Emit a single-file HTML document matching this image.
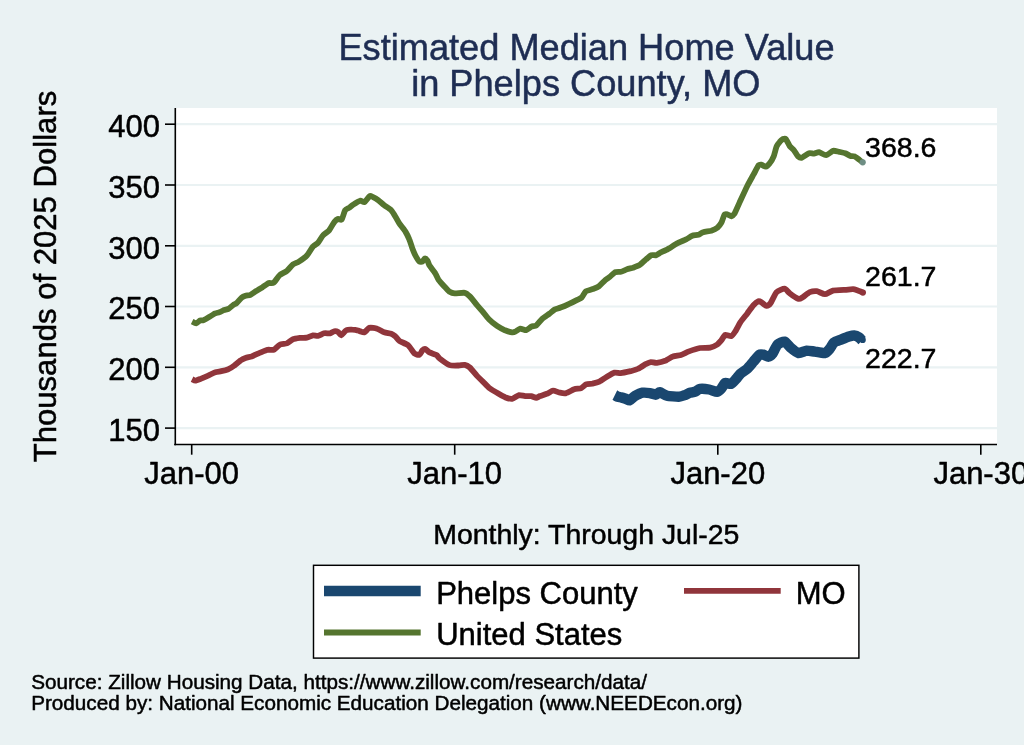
<!DOCTYPE html>
<html><head><meta charset="utf-8"><title>Estimated Median Home Value in Phelps County, MO</title>
<style>
html,body{margin:0;padding:0;background:#eaf2f3;}
body{width:1024px;height:745px;overflow:hidden;}
svg{display:block;font-family:"Liberation Sans",Arial,Helvetica,sans-serif;}
svg{will-change:transform;}
svg text{stroke-width:0.5px;stroke-linejoin:round;}
.k{fill:#000;stroke:#000;}
.t{fill:#1e2d53;stroke:#1e2d53;}
</style></head><body>
<svg width="1024" height="745" viewBox="0 0 1024 745">
<rect x="0" y="0" width="1024" height="745" fill="#eaf2f3"/>
<rect x="176" y="108" width="821" height="336.5" fill="#ffffff"/>
<g stroke="#eaf2f3" stroke-width="2.2"><line x1="176" x2="997" y1="428.1" y2="428.1"/><line x1="176" x2="997" y1="367.3" y2="367.3"/><line x1="176" x2="997" y1="306.5" y2="306.5"/><line x1="176" x2="997" y1="245.8" y2="245.8"/><line x1="176" x2="997" y1="185.0" y2="185.0"/><line x1="176" x2="997" y1="124.2" y2="124.2"/></g>
<g fill="none" stroke-linejoin="round" stroke-linecap="butt">
<path d="M614.9,395.0C615.1,395.1 616.4,396.3 617.0,396.5C617.6,396.7 620.1,397.1 621.0,397.4C621.8,397.6 624.7,398.5 625.6,398.8C626.5,399.1 628.7,400.6 629.6,400.4C630.5,400.1 633.4,396.9 634.7,396.1C636.0,395.4 641.2,393.0 642.7,392.7C644.2,392.4 648.5,392.9 649.8,393.1C651.1,393.3 654.8,394.8 655.8,394.7C656.8,394.7 658.7,392.2 659.8,392.3C660.9,392.4 665.0,395.3 666.9,395.7C668.8,396.2 677.2,396.8 679.0,396.7C680.8,396.7 683.9,395.5 685.0,395.1C686.1,394.7 689.0,393.1 690.1,392.7C691.1,392.4 694.1,392.1 695.1,391.7C696.1,391.3 698.6,389.1 700.0,388.9C701.4,388.7 707.4,389.2 709.1,389.5C710.8,389.8 715.9,392.0 717.1,391.9C718.3,391.9 720.3,389.8 721.1,388.9C722.0,388.0 724.2,383.4 725.2,382.9C726.2,382.4 730.1,384.3 731.2,383.9C732.3,383.5 735.3,379.8 736.3,378.8C737.2,377.8 739.2,374.8 740.3,373.8C741.4,372.8 746.0,370.0 747.3,368.8C748.6,367.6 752.2,363.1 753.4,361.7C754.6,360.3 758.4,355.4 759.4,354.7C760.4,354.0 762.5,354.5 763.4,354.7C764.4,354.9 767.6,356.8 768.5,356.7C769.4,356.6 771.6,354.9 772.5,353.7C773.4,352.4 776.3,345.8 777.5,344.6C778.8,343.4 783.3,341.3 784.6,341.6C785.9,341.9 789.2,346.5 790.6,347.6C792.0,348.8 797.1,352.7 798.7,353.1C800.3,353.4 805.1,350.8 806.7,350.6C808.4,350.5 813.0,351.4 814.8,351.6C816.6,351.9 823.4,353.4 824.9,353.1C826.4,352.7 829.0,349.7 829.9,348.6C830.8,347.6 832.8,343.5 833.9,342.6C835.0,341.7 839.5,340.2 841.0,339.6C842.5,339.0 847.7,336.9 849.0,336.5C850.4,336.1 853.1,335.4 854.1,335.5C855.1,335.6 858.3,337.0 859.1,337.5C859.9,338.0 861.8,340.3 862.1,340.6" stroke="#1a476f" stroke-width="10.4"/>
<path d="M192.1,379.2C192.5,379.4 194.6,380.7 195.5,380.6C196.4,380.6 199.9,379.1 201.2,378.6C202.4,378.1 206.8,376.2 208.2,375.6C209.6,375.0 214.0,372.6 215.3,372.2C216.6,371.7 220.0,371.5 221.3,371.2C222.6,370.9 227.1,369.7 228.4,369.2C229.7,368.6 233.2,366.4 234.4,365.5C235.6,364.7 239.3,361.3 240.5,360.5C241.6,359.7 244.4,358.3 245.5,357.9C246.6,357.5 250.2,356.9 251.5,356.5C252.8,356.0 257.0,354.1 258.6,353.4C260.2,352.8 266.1,350.2 267.6,349.8C269.2,349.5 272.5,350.3 273.7,349.8C274.9,349.3 278.4,345.4 279.7,344.8C281.0,344.1 285.5,343.9 286.8,343.4C288.1,342.8 291.5,339.9 292.8,339.3C294.1,338.8 298.5,338.1 299.9,337.9C301.3,337.8 305.6,338.0 306.9,337.7C308.2,337.5 311.9,335.5 313.0,335.3C314.1,335.1 316.9,336.1 318.0,335.9C319.1,335.7 322.8,333.6 324.0,333.3C325.2,333.0 329.1,333.5 330.1,333.3C331.1,333.1 333.3,331.4 334.1,331.3C334.9,331.1 337.4,331.5 338.1,331.9C338.8,332.3 340.4,335.5 341.2,335.3C342.0,335.2 345.1,330.8 346.2,330.3C347.3,329.7 350.9,329.6 352.2,329.7C353.5,329.7 358.5,330.7 359.3,330.9C360.1,331.0 359.5,331.1 360.0,331.3C360.5,331.4 363.5,332.7 364.4,332.3C365.4,331.9 368.4,328.0 369.7,327.7C370.9,327.3 375.7,328.2 377.1,328.7C378.6,329.1 382.8,331.8 384.2,332.3C385.6,332.8 390.1,333.3 391.2,333.7C392.3,334.1 394.4,335.6 395.2,336.3C396.1,337.0 398.0,339.8 399.3,340.8C400.6,341.7 406.8,344.1 408.3,345.4C409.8,346.7 413.3,352.5 414.4,353.4C415.5,354.4 418.6,355.2 419.4,354.9C420.2,354.6 421.8,351.0 422.4,350.4C423.0,349.8 424.8,348.8 425.5,349.0C426.2,349.2 428.4,351.8 429.5,352.4C430.6,353.0 435.5,354.5 436.5,355.1C437.5,355.7 438.2,357.5 439.6,358.5C440.9,359.5 447.7,364.4 449.6,365.1C451.5,365.8 457.2,365.5 458.7,365.5C460.2,365.5 463.6,364.7 464.7,364.9C465.8,365.1 468.6,366.5 469.8,367.5C471.0,368.6 475.5,374.2 476.8,375.6C478.1,377.0 481.7,380.4 482.9,381.6C484.1,382.8 487.5,386.6 488.9,387.7C490.3,388.8 495.3,391.8 497.0,392.7C498.6,393.7 503.5,396.5 505.0,397.2C506.5,397.8 510.7,399.0 512.1,398.8C513.5,398.6 517.8,395.4 519.1,395.1C520.4,394.9 523.9,396.0 525.2,396.1C526.4,396.2 530.1,396.0 531.2,396.1C532.3,396.3 535.4,397.8 536.2,397.8C537.1,397.8 538.9,396.5 540.0,396.1C541.1,395.7 545.7,394.3 547.0,393.7C548.4,393.2 551.8,390.8 553.1,390.7C554.4,390.6 558.8,392.5 560.1,392.7C561.5,393.0 564.8,393.5 566.2,393.1C567.6,392.8 572.7,389.8 574.2,389.3C575.8,388.8 580.1,388.6 581.3,388.1C582.5,387.6 585.2,384.7 586.3,384.3C587.4,383.8 591.1,383.9 592.4,383.7C593.7,383.4 598.0,382.3 599.4,381.6C600.8,381.0 605.0,377.9 606.5,377.0C608.0,376.1 613.1,373.0 614.5,372.6C615.9,372.2 619.0,373.3 620.6,373.2C622.2,373.0 628.8,371.6 630.6,371.2C632.4,370.7 637.2,369.3 638.7,368.5C640.2,367.8 644.5,364.8 645.7,364.1C646.9,363.5 649.7,362.2 650.8,362.1C651.9,362.0 655.3,363.1 656.8,362.9C658.3,362.7 664.3,361.1 665.9,360.5C667.5,359.8 671.4,357.0 672.9,356.5C674.4,355.9 679.4,355.4 681.0,354.9C682.6,354.4 687.1,352.1 689.0,351.4C690.9,350.7 697.9,348.4 700.0,348.0C702.1,347.6 708.4,348.0 710.1,347.6C711.8,347.3 716.0,345.3 717.1,344.6C718.2,343.9 720.3,341.5 721.1,340.6C722.0,339.6 724.2,335.4 725.2,334.9C726.2,334.5 730.2,336.5 731.2,336.1C732.2,335.8 734.3,332.9 735.2,331.5C736.2,330.1 739.1,324.2 740.3,322.4C741.5,320.6 746.0,315.1 747.3,313.4C748.6,311.7 752.3,306.5 753.4,305.3C754.5,304.1 757.6,301.6 758.4,301.3C759.2,301.0 760.6,301.8 761.4,302.3C762.2,302.8 765.6,305.8 766.5,305.9C767.4,306.0 769.5,304.7 770.5,303.3C771.5,301.9 775.1,293.7 776.5,292.2C777.9,290.8 783.3,288.5 784.6,288.6C785.9,288.7 788.2,292.2 789.6,293.2C791.0,294.3 797.4,298.5 798.7,298.9C800.0,299.3 801.6,297.9 802.7,297.3C803.8,296.6 808.4,292.8 809.8,292.2C811.2,291.6 815.3,291.0 816.8,291.2C818.3,291.4 823.3,294.3 824.9,294.2C826.5,294.2 830.9,291.1 832.9,290.6C834.9,290.2 843.0,289.9 845.0,289.8C847.0,289.7 851.8,289.1 853.1,289.2C854.4,289.3 857.1,290.3 858.1,290.6C859.1,291.0 862.6,292.4 863.1,292.6" stroke="#90353b" stroke-width="5.8"/>
<path d="M192.1,321.6C192.5,321.8 195.3,323.5 196.1,323.4C196.9,323.3 199.5,320.7 200.2,320.4C200.9,320.1 202.4,320.7 203.2,320.4C204.0,320.1 207.0,318.3 208.2,317.6C209.4,316.9 214.2,313.9 215.3,313.3C216.4,312.8 218.4,312.7 219.3,312.3C220.2,312.0 223.4,310.3 224.3,309.9C225.2,309.6 227.5,309.4 228.4,308.9C229.3,308.4 232.6,305.4 233.4,304.9C234.2,304.3 235.6,304.0 236.4,303.3C237.2,302.6 240.6,298.6 241.5,297.8C242.4,297.1 244.6,296.1 245.5,295.8C246.4,295.5 249.4,295.3 250.5,294.8C251.6,294.3 255.4,291.5 256.6,290.8C257.8,290.0 261.4,287.9 262.6,287.2C263.8,286.4 267.5,283.6 268.6,283.1C269.8,282.7 272.6,283.5 273.7,282.7C274.8,281.9 278.4,276.2 279.7,275.1C281.0,273.9 285.5,272.1 286.8,271.0C288.1,270.0 291.6,265.5 292.8,264.6C294.0,263.6 297.5,262.5 298.9,261.6C300.3,260.7 305.5,257.0 306.9,255.5C308.3,254.0 311.9,247.7 313.0,246.5C314.1,245.2 317.0,243.9 318.0,242.8C319.0,241.7 321.9,236.6 323.0,235.4C324.1,234.1 328.0,231.7 329.1,230.4C330.2,229.0 333.2,223.4 334.1,222.3C335.0,221.1 337.4,219.1 338.1,218.9C338.9,218.6 340.9,220.5 341.6,219.7C342.3,218.8 344.4,211.4 345.2,210.2C345.9,209.0 348.4,208.4 349.2,207.8C350.0,207.2 352.1,205.3 353.2,204.6C354.3,203.9 359.2,201.0 360.3,200.7C361.4,200.5 363.5,202.6 364.4,202.2C365.4,201.7 368.8,196.6 369.7,196.1C370.5,195.6 372.2,196.7 373.1,197.1C373.9,197.5 377.0,199.3 378.1,200.1C379.2,200.9 382.9,204.2 384.2,205.2C385.5,206.2 390.1,209.1 391.2,210.2C392.3,211.3 394.4,214.9 395.2,216.3C396.1,217.6 398.3,221.8 399.3,223.3C400.3,224.8 404.3,229.7 405.3,231.4C406.3,233.0 408.6,237.7 409.3,239.4C410.1,241.1 411.8,246.9 412.4,248.5C413.0,250.1 414.7,254.2 415.4,255.5C416.1,256.8 418.7,261.0 419.4,261.6C420.1,262.2 421.9,261.9 422.4,261.6C423.0,261.3 424.4,258.7 424.9,258.5C425.4,258.4 427.0,259.9 427.5,260.6C427.9,261.3 428.7,264.3 429.5,265.6C430.3,266.9 434.6,272.2 435.5,273.7C436.4,275.1 437.6,278.4 438.5,279.7C439.5,281.0 443.5,285.5 444.6,286.7C445.7,288.0 448.6,291.1 449.6,291.8C450.6,292.4 453.2,293.3 454.7,293.4C456.2,293.5 463.2,292.5 464.7,292.8C466.2,293.1 468.6,295.2 469.8,296.4C471.0,297.6 475.5,303.3 476.8,304.9C478.1,306.4 481.7,310.5 482.9,311.9C484.1,313.4 487.5,317.8 488.9,319.2C490.3,320.6 495.3,324.7 497.0,325.9C498.6,327.0 503.5,329.6 505.0,330.3C506.5,330.9 511.0,332.2 512.1,332.3C513.1,332.4 514.4,332.1 515.2,331.7C516.1,331.4 519.2,328.9 520.3,328.7C521.4,328.5 525.2,330.3 526.3,330.1C527.4,329.9 530.4,327.2 531.4,326.7C532.4,326.2 535.3,326.1 536.4,325.3C537.5,324.5 541.1,319.8 542.4,318.6C543.7,317.5 548.3,314.5 549.5,313.6C550.7,312.7 553.4,310.2 554.5,309.6C555.6,309.0 559.2,308.1 560.6,307.5C562.0,307.0 567.0,304.9 568.6,304.1C570.2,303.4 575.4,300.8 576.7,300.1C578.0,299.4 580.8,298.3 581.7,297.5C582.6,296.6 584.6,292.3 585.7,291.4C586.8,290.6 591.5,289.5 592.8,289.0C594.1,288.5 597.6,287.3 598.8,286.4C600.0,285.5 603.8,281.3 604.9,280.4C606.0,279.4 608.9,277.5 609.9,276.7C610.9,275.9 613.8,272.8 614.9,272.3C616.1,271.8 619.8,272.0 621.0,271.7C622.2,271.4 625.8,269.7 627.0,269.3C628.2,268.9 631.8,268.1 633.1,267.7C634.4,267.2 638.8,265.5 640.1,264.6C641.4,263.8 645.1,260.2 646.2,259.2C647.3,258.3 650.2,255.6 651.2,255.2C652.2,254.8 655.2,255.5 656.2,255.2C657.2,254.9 660.2,252.7 661.3,252.2C662.4,251.6 666.4,250.0 667.3,249.5C668.2,249.1 668.9,248.6 670.0,247.9C671.1,247.2 676.4,243.7 678.1,242.9C679.7,242.0 684.7,240.1 686.1,239.4C687.5,238.7 690.9,236.3 692.2,235.8C693.4,235.3 697.1,235.2 698.2,234.8C699.3,234.4 701.9,232.6 703.2,232.2C704.5,231.8 709.9,231.2 711.3,230.8C712.7,230.3 716.3,228.6 717.3,227.8C718.3,226.9 720.7,224.0 721.4,222.7C722.1,221.4 723.8,215.5 724.4,214.7C725.0,213.8 726.7,214.1 727.4,214.3C728.1,214.4 730.7,216.3 731.4,216.3C732.1,216.2 733.6,215.0 734.5,213.7C735.3,212.3 738.2,205.4 739.5,202.6C740.8,199.8 746.1,188.3 747.5,185.5C749.0,182.6 752.5,176.4 753.6,174.4C754.7,172.4 757.8,166.3 758.6,165.3C759.4,164.4 760.9,164.6 761.6,164.7C762.3,164.9 764.9,166.9 765.7,166.7C766.5,166.6 768.9,164.4 769.7,163.3C770.5,162.3 773.0,158.0 773.7,156.3C774.4,154.5 776.1,147.6 776.7,146.2C777.4,144.7 779.2,142.5 779.8,141.8C780.4,141.0 782.2,139.4 782.8,139.1C783.4,138.9 785.1,138.4 785.8,139.1C786.5,139.8 789.0,145.1 789.8,146.2C790.6,147.3 793.1,149.2 793.9,150.2C794.7,151.2 797.1,155.5 797.9,156.3C798.7,157.0 800.8,158.0 801.9,157.7C803.0,157.4 807.8,153.6 809.0,153.2C810.2,152.8 813.0,153.7 814.0,153.6C815.0,153.5 817.8,152.1 819.0,152.2C820.3,152.4 824.7,155.4 826.1,155.2C827.5,155.1 831.8,151.2 833.1,150.8C834.5,150.5 838.0,151.6 839.2,151.8C840.4,152.1 844.1,152.8 845.2,153.2C846.3,153.6 849.4,155.5 850.3,155.9C851.2,156.2 853.4,155.9 854.3,156.3C855.2,156.6 858.5,159.1 859.3,159.7C860.1,160.3 862.0,162.0 862.3,162.3" stroke="#55752f" stroke-width="5.8"/>
</g>
<circle cx="862.7" cy="339.9" r="3.1" fill="#1a476f"/><circle cx="862.9" cy="292.6" r="3.1" fill="#90353b"/><circle cx="862.7" cy="162.3" r="3.1" fill="#6e8e84"/>
<g stroke="#000" stroke-width="1.6" fill="none">
<line x1="175.3" x2="175.3" y1="108" y2="445.2"/>
<line x1="174.2" x2="997" y1="444.5" y2="444.5"/>
<line x1="165" x2="175" y1="428.1" y2="428.1"/><line x1="165" x2="175" y1="367.3" y2="367.3"/><line x1="165" x2="175" y1="306.5" y2="306.5"/><line x1="165" x2="175" y1="245.8" y2="245.8"/><line x1="165" x2="175" y1="185.0" y2="185.0"/><line x1="165" x2="175" y1="124.2" y2="124.2"/><line x1="191.7" x2="191.7" y1="444.5" y2="454.7"/><line x1="454.7" x2="454.7" y1="444.5" y2="454.7"/><line x1="717.8" x2="717.8" y1="444.5" y2="454.7"/><line x1="980.8" x2="980.8" y1="444.5" y2="454.7"/>
</g>
<g font-size="31.0px" class="k"><text x="160.0" y="441.0" text-anchor="end">150</text><text x="160.0" y="380.2" text-anchor="end">200</text><text x="160.0" y="319.4" text-anchor="end">250</text><text x="160.0" y="258.7" text-anchor="end">300</text><text x="160.0" y="197.9" text-anchor="end">350</text><text x="160.0" y="137.1" text-anchor="end">400</text><text x="191.7" y="483.9" text-anchor="middle">Jan-00</text><text x="454.7" y="483.9" text-anchor="middle">Jan-10</text><text x="717.8" y="483.9" text-anchor="middle">Jan-20</text><text x="980.8" y="483.9" text-anchor="middle">Jan-30</text></g>
<g font-size="28.55px" class="k">
<text x="865.0" y="157.2">368.6</text>
<text x="865.0" y="286.2">261.7</text>
<text x="865.0" y="368.2">222.7</text>
</g>
<g font-size="36.2px" class="t" text-anchor="middle">
<text x="586.5" y="59.7">Estimated Median Home Value</text>
<text x="585.8" y="95.7">in Phelps County, MO</text>
</g>
<text transform="translate(55.8,276.5) rotate(-90)" font-size="31.1px" text-anchor="middle" class="k">Thousands of 2025 Dollars</text>
<text x="586.3" y="543.8" font-size="28.45px" text-anchor="middle" class="k">Monthly: Through Jul-25</text>
<rect x="313.5" y="565.3" width="545.4" height="92.8" fill="#fff" stroke="#000" stroke-width="1.45"/>
<line x1="324" x2="420.7" y1="591.0" y2="591.0" stroke="#1a476f" stroke-width="10.4"/>
<line x1="684" x2="780.7" y1="590.9" y2="590.9" stroke="#90353b" stroke-width="5.9"/>
<line x1="324" x2="420.7" y1="632.45" y2="632.45" stroke="#55752f" stroke-width="5.9"/>
<g font-size="31px" class="k">
<text x="436.2" y="603.8">Phelps County</text>
<text x="795.8" y="603.8">MO</text>
<text x="436.2" y="645.2">United States</text>
</g>
<g font-size="20.68px" class="k">
<text x="31.2" y="688.9">Source: Zillow Housing Data, https://www.zillow.com/research/data/</text>
<text x="31.2" y="710.1">Produced by: National Economic Education Delegation (www.NEEDEcon.org)</text>
</g>
</svg>
</body></html>
